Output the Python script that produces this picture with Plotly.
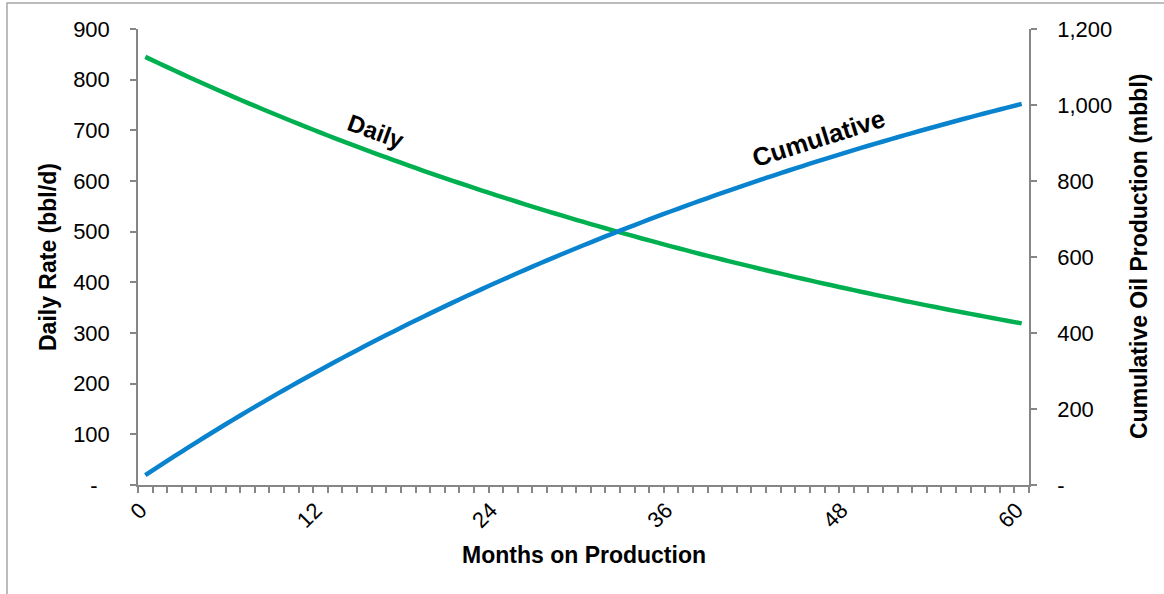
import plotly.graph_objects as go

# Months on production (0..60)
months = list(range(61))

# Daily oil rate, bbl/d
daily_rate = [
    845.0, 831.4, 818.0, 804.8, 791.9, 779.1, 766.6, 754.2, 742.1, 730.2,
    718.4, 706.8, 695.4, 684.2, 673.2, 662.4, 651.7, 641.2, 630.9, 620.7,
    610.7, 600.9, 591.2, 581.7, 572.3, 563.1, 554.0, 545.1, 536.3, 527.7,
    519.2, 510.9, 502.7, 494.6, 486.6, 478.8, 471.1, 463.5, 456.0, 448.7,
    441.5, 434.4, 427.4, 420.5, 413.7, 407.1, 400.5, 394.1, 387.7, 381.5,
    375.3, 369.3, 363.3, 357.5, 351.7, 346.0, 340.5, 335.0, 329.6, 324.3,
    319.0,
]

# Cumulative oil production, mbbl
cumulative = [
    25.7, 51.0, 75.8, 100.3, 124.4, 148.1, 171.4, 194.3, 216.9, 239.1,
    260.9, 282.4, 303.5, 324.3, 344.8, 364.9, 384.7, 404.2, 423.4, 442.3,
    460.9, 479.2, 497.2, 514.9, 532.3, 549.4, 566.2, 582.8, 599.1, 615.1,
    630.9, 646.4, 661.7, 676.7, 691.5, 706.1, 720.4, 734.5, 748.4, 762.0,
    775.4, 788.6, 801.6, 814.4, 827.0, 839.4, 851.6, 863.6, 875.4, 887.0,
    898.4, 909.6, 920.6, 931.5, 942.2, 952.7, 963.1, 973.3, 983.3, 993.2,
    1002.9,
]

# Axis tick values and labels
x_tickvals = [0, 12, 24, 36, 48, 60]
left_tickvals = [0, 100, 200, 300, 400, 500, 600, 700, 800, 900]
left_ticktext = ["-\u00a0\u00a0"] + [str(v) for v in left_tickvals[1:]]
right_tickvals = [0, 200, 400, 600, 800, 1000, 1200]
right_ticktext = ["-", "200", "400", "600", "800", "1,000", "1,200"]

FONT = "Liberation Sans, Arial, sans-serif"
AXIS_GRAY = "#868686"
GREEN = "#00B050"
BLUE = "#0A83CF"

fig = go.Figure()
fig.add_trace(go.Scatter(
    x=months, y=daily_rate, mode="lines", name="Daily",
    line=dict(color=GREEN, width=4.5, shape="spline", smoothing=0.6),
    yaxis="y",
))
fig.add_trace(go.Scatter(
    x=months, y=cumulative, mode="lines", name="Cumulative",
    line=dict(color=BLUE, width=4.5, shape="spline", smoothing=0.6),
    yaxis="y2",
))

tick_font = dict(family=FONT, size=22, color="#000000")
title_font = dict(family=FONT, size=23, color="#000000")
label_font = dict(family=FONT, size=24, color="#000000")

fig.update_layout(
    width=1164, height=594,
    margin=dict(l=138, r=135, t=29, b=109),
    paper_bgcolor="white", plot_bgcolor="white",
    showlegend=False,
    xaxis=dict(
        range=[-0.5, 60.5], tickmode="array", tickvals=x_tickvals,
        ticktext=[str(v) for v in x_tickvals], tickangle=-45,
        ticks="", showgrid=False, zeroline=False,
        showline=True, linecolor=AXIS_GRAY, linewidth=1.5,
        tickfont=tick_font, ticklabelstandoff=2, ticklabelshift=-5,
        minor=dict(ticks="outside", ticklen=6, tickwidth=1.5, tickcolor=AXIS_GRAY,
                   tickmode="linear", tick0=-0.5, dtick=1, showgrid=False),
        automargin=False,
    ),
    yaxis=dict(
        range=[0, 900], tickmode="array", tickvals=left_tickvals, ticktext=left_ticktext,
        ticks="outside", ticklen=6, tickwidth=1.5, tickcolor=AXIS_GRAY,
        showgrid=False, zeroline=False,
        showline=True, linecolor=AXIS_GRAY, linewidth=1.5,
        tickfont=tick_font, ticklabelstandoff=16, automargin=False,
    ),
    yaxis2=dict(
        range=[0, 1200], overlaying="y", side="right",
        tickmode="array", tickvals=right_tickvals, ticktext=right_ticktext,
        ticks="outside", ticklen=6, tickwidth=1.5, tickcolor=AXIS_GRAY,
        showgrid=False, zeroline=False,
        showline=True, linecolor=AXIS_GRAY, linewidth=1.5,
        tickfont=tick_font, ticklabelstandoff=16, automargin=False,
    ),
)

# Axis titles
fig.add_annotation(text="<b>Months on Production</b>", xref="paper", yref="paper",
                   x=0.5, y=(485 - 555) / 456, showarrow=False, font=title_font,
                   xanchor="center", yanchor="middle")
fig.add_annotation(text="<b>Daily Rate (bbl/d)</b>", xref="paper", yref="paper",
                   x=(48 - 138) / 891, y=0.5, textangle=-90, showarrow=False,
                   font=title_font, xanchor="center", yanchor="middle")
fig.add_annotation(text="<b>Cumulative Oil Production (mbbl)</b>", xref="paper", yref="paper",
                   x=(1139 - 138) / 891, y=0.5, textangle=-90, showarrow=False,
                   font=title_font, xanchor="center", yanchor="middle")

# In-chart series labels
fig.add_annotation(text="<b>Daily</b>", x=15.8, y=698, xref="x", yref="y",
                   textangle=20, showarrow=False, font=label_font)
fig.add_annotation(text="<b>Cumulative</b>", x=46.1, y=684, xref="x", yref="y",
                   textangle=-17.5, showarrow=False,
                   font=dict(family=FONT, size=25.5, color="#000000"))

# Outer chart frame
fig.add_shape(type="rect", xref="paper", yref="paper",
              x0=(7 - 138) / 891, x1=1.3, y0=-0.4, y1=(485 - 3) / 456,
              line=dict(color="#A6A6A6", width=1.5), fillcolor="rgba(0,0,0,0)", layer="below")

fig.write_html("out.html")
